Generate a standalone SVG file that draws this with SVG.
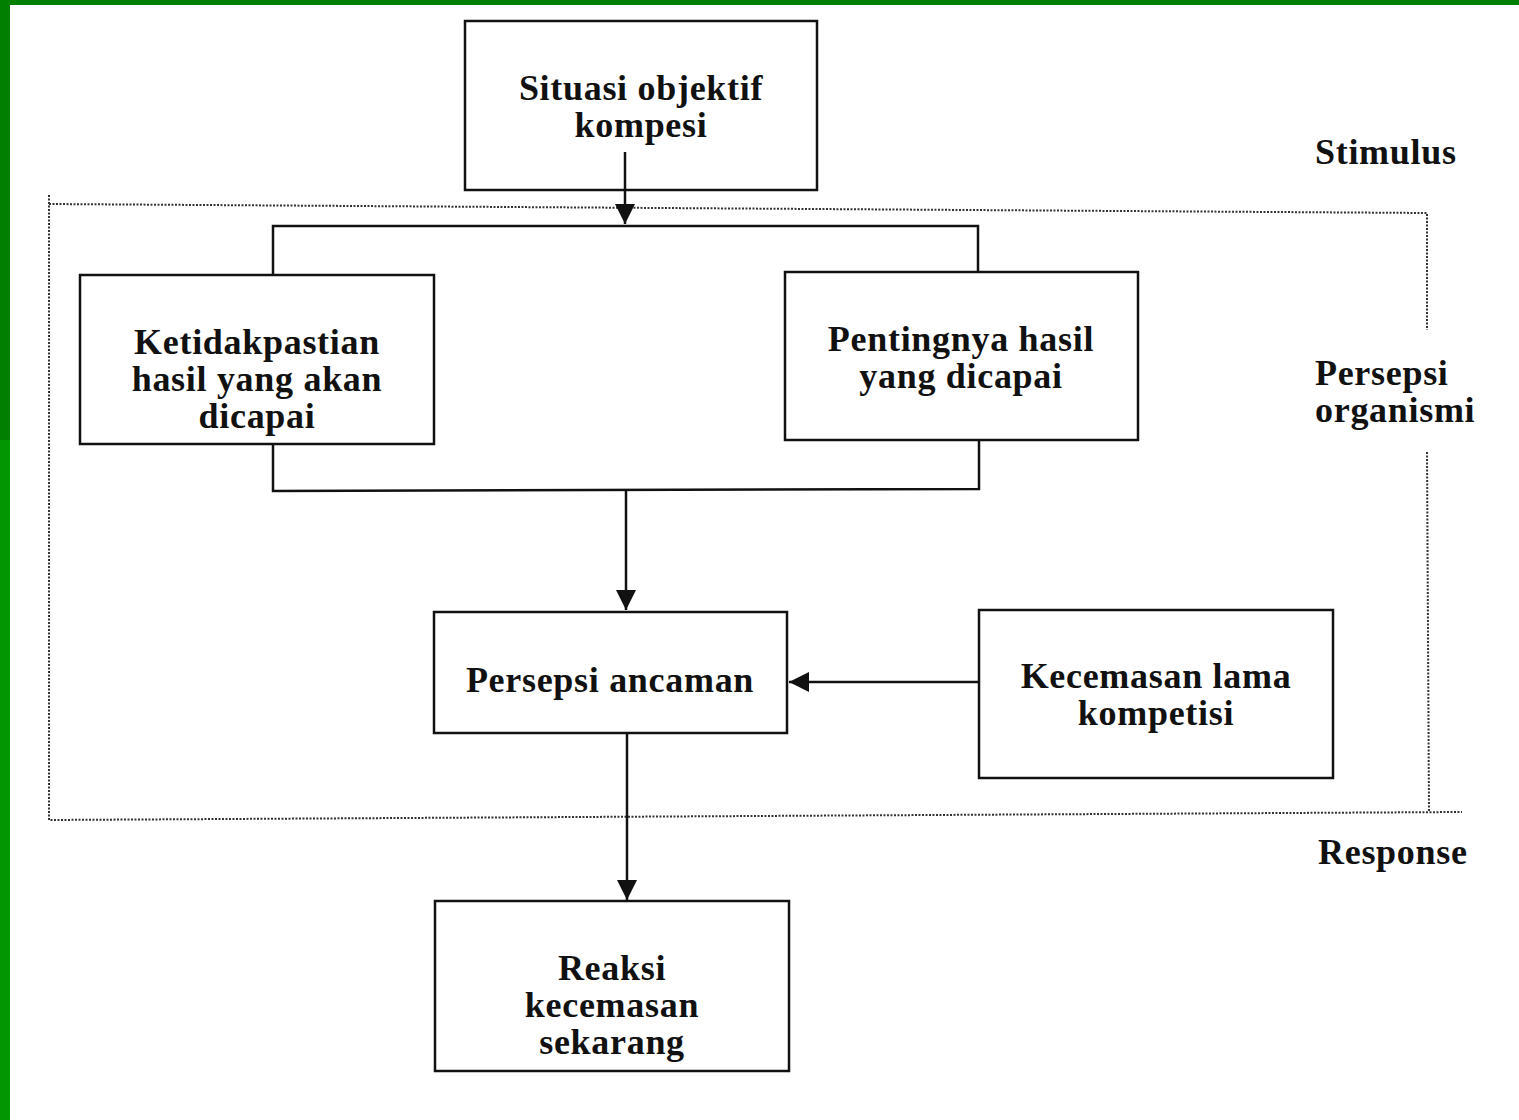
<svg xmlns="http://www.w3.org/2000/svg" width="1519" height="1120" viewBox="0 0 1519 1120">
<defs>
<style>
.box{fill:#fff;stroke:#111;stroke-width:2.5}
.t{font-family:"Liberation Serif","Times New Roman",serif;font-weight:bold;font-size:36px;letter-spacing:0.7px;fill:#111;text-anchor:middle}
.l{font-family:"Liberation Serif","Times New Roman",serif;font-weight:bold;font-size:36px;letter-spacing:0.7px;fill:#111}
.ln{fill:none;stroke:#111;stroke-width:2.5}
.dot{fill:none;stroke:#333;stroke-width:2;stroke-dasharray:2 1.5}
</style>
<marker id="ah" viewBox="0 0 10 10" refX="10" refY="5" markerWidth="8" markerHeight="8" markerUnits="strokeWidth" orient="auto">
<path d="M0,0 L10,5 L0,10 Z" fill="#111"/>
</marker>
</defs>
<rect width="1519" height="1120" fill="#fff"/>
<rect x="0" y="0" width="1519" height="5" fill="#007f00"/>
<rect x="0" y="0" width="10" height="1120" fill="#039603"/>
<rect x="0" y="0" width="10" height="440" fill="#007f00"/>

<g id="frame">
<path class="dot" d="M49,195 L49,820 L1462,812"/>
<path class="dot" d="M49,204 L1427,213 L1427,330"/>
<path class="dot" d="M1427,452 L1429,812"/>
</g>

<g id="node-situasi">
<rect class="box" x="465" y="21" width="352" height="169"/>
<text class="t" x="641" y="100">Situasi objektif</text>
<text class="t" x="641" y="137">kompesi</text>
</g>

<g id="node-ketidakpastian">
<rect class="box" x="80" y="275" width="354" height="169"/>
<text class="t" x="257" y="354">Ketidakpastian</text>
<text class="t" x="257" y="391">hasil yang akan</text>
<text class="t" x="257" y="428">dicapai</text>
</g>

<g id="node-pentingnya">
<rect class="box" x="785" y="272" width="353" height="168"/>
<text class="t" x="961" y="351">Pentingnya hasil</text>
<text class="t" x="961" y="388">yang dicapai</text>
</g>

<g id="node-persepsi-ancaman">
<rect class="box" x="434" y="612" width="353" height="121"/>
<text class="t" x="610" y="692">Persepsi ancaman</text>
</g>

<g id="node-kecemasan-lama">
<rect class="box" x="979" y="610" width="354" height="168"/>
<text class="t" x="1156" y="688">Kecemasan lama</text>
<text class="t" x="1156" y="725">kompetisi</text>
</g>

<g id="node-reaksi">
<rect class="box" x="435" y="901" width="354" height="170"/>
<text class="t" x="612" y="980">Reaksi</text>
<text class="t" x="612" y="1017">kecemasan</text>
<text class="t" x="612" y="1054">sekarang</text>
</g>

<g id="connectors">
<path class="ln" d="M625,152 L625,224" marker-end="url(#ah)"/>
<path class="ln" d="M273,275 L273,226 L978,226 L978,272"/>
<path class="ln" d="M273,444 L273,491 L979,489 L979,440"/>
<path class="ln" d="M626,490 L626,610" marker-end="url(#ah)"/>
<path class="ln" d="M979,682 L789,682" marker-end="url(#ah)"/>
<path class="ln" d="M627,733 L627,900" marker-end="url(#ah)"/>
</g>

<g id="labels">
<text class="l" x="1315" y="164">Stimulus</text>
<text class="l" x="1315" y="385">Persepsi</text>
<text class="l" x="1315" y="422">organismi</text>
<text class="l" x="1318" y="864">Response</text>
</g>
</svg>
